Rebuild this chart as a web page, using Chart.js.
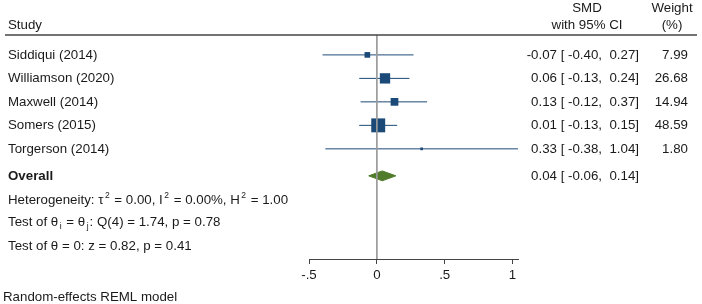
<!DOCTYPE html>
<html>
<head>
<meta charset="utf-8">
<script src="https://cdn.jsdelivr.net/npm/chart.js@4/dist/chart.umd.min.js"></script>
<style>
  html, body { margin: 0; padding: 0; background: #fff; }
  canvas { display: block; }
</style>
</head>
<body>
<canvas id="forestCanvas" width="702" height="304"></canvas>
<script>
// ===== data =====
const studies = ["Siddiqui (2014)", "Williamson (2020)", "Maxwell (2014)", "Somers (2015)", "Torgerson (2014)"];
const smd = [-0.07, 0.06, 0.13, 0.01, 0.33];
const lower = [-0.40, -0.13, -0.12, -0.13, -0.38];
const upper = [0.27, 0.24, 0.37, 0.15, 1.04];
const weights = [7.99, 26.68, 14.94, 48.59, 1.80];
const overall = [0.04, -0.06, 0.14]; // estimate, lower, upper
const xTicks = [-0.5, 0, 0.5, 1];
const xTickLabels = ["-.5", "0", ".5", "1"];

// row layout (y scale units, one row per line)
const rows = [1, 2, 3, 4, 5];
const overallRow = 6.15;
const statRows = [7.2, 8.15, 9.15];
const yTop = 0.153;
const yBottom = 9.69;

const BOX = "#1c4a78";
const DIAMOND = "#4f7b2b";
const TEXT = "#1a1a1a";
const FONT = "'Liberation Sans', Arial, Helvetica, sans-serif";
const FS = 13.3;

Chart.defaults.font.family = FONT;
Chart.defaults.font.size = FS;
Chart.defaults.color = TEXT;

const fmt = (v) => (v < 0 ? "-" : "") + Math.abs(v).toFixed(2);
const ciText = (e, l, u) => `${fmt(e)} [ ${fmt(l)},  ${fmt(u)}]`;

// CI lines, one dataset each
const ciSets = studies.map((s, i) => ({
  type: "line",
  data: [{ x: lower[i], y: rows[i] }, { x: upper[i], y: rows[i] }],
  borderColor: BOX,
  borderWidth: 1,
  pointRadius: 0,
  clip: false,
}));

// 畫文字 (含上下標)
function drawRich(ctx, parts, x, y) {
  let cx = x;
  parts.forEach((p) => {
    const small = p.sup || p.sub;
    ctx.font = `${small ? 8.5 : FS}px ${FONT}`;
    const dy = p.sup ? -5 : p.sub ? 4 : 0;
    if (small) cx += 1.5;
    ctx.fillText(p.t, cx, y + dy);
    cx += ctx.measureText(p.t).width + (small ? 1 : 0);
  });
}

const textPlugin = {
  id: "forestText",
  afterDraw(chart) {
    const ctx = chart.ctx;
    const ys = chart.scales.y;
    ctx.save();
    ctx.fillStyle = TEXT;
    ctx.textBaseline = "middle";
    ctx.font = `${FS}px ${FONT}`;

    // header
    ctx.textAlign = "left";
    ctx.fillText("Study", 8, 25);
    ctx.textAlign = "center";
    ctx.fillText("SMD", 587, 8);
    ctx.fillText("with 95% CI", 587, 25);
    ctx.fillText("Weight", 672, 8);
    ctx.fillText("(%)", 672, 25);

    ctx.strokeStyle = "#444";
    ctx.lineWidth = 1.5;
    ctx.beginPath();
    ctx.moveTo(5, 35);
    ctx.lineTo(697, 35);
    ctx.stroke();

    // study rows
    studies.forEach((s, i) => {
      const y = ys.getPixelForValue(rows[i]);
      ctx.textAlign = "left";
      ctx.fillText(s, 8, y);
      ctx.textAlign = "right";
      ctx.fillText(ciText(smd[i], lower[i], upper[i]), 639, y);
      ctx.fillText(weights[i].toFixed(2), 688, y);
    });

    // overall
    const oy = ys.getPixelForValue(overallRow);
    ctx.textAlign = "left";
    ctx.font = `bold ${FS}px ${FONT}`;
    ctx.fillText("Overall", 8, oy);
    ctx.font = `${FS}px ${FONT}`;
    ctx.textAlign = "right";
    ctx.fillText(ciText(overall[0], overall[1], overall[2]), 639, oy);

    // statistics
    ctx.textAlign = "left";
    drawRich(ctx, [
      { t: "Heterogeneity: τ" }, { t: "2", sup: true }, { t: " = 0.00, I" }, { t: "2", sup: true },
      { t: " = 0.00%, H" }, { t: "2", sup: true }, { t: " = 1.00" },
    ], 8, ys.getPixelForValue(statRows[0]));
    drawRich(ctx, [
      { t: "Test of θ" }, { t: "i", sub: true }, { t: " = θ" }, { t: "j", sub: true },
      { t: ": Q(4) = 1.74, p = 0.78" },
    ], 8, ys.getPixelForValue(statRows[1]));
    drawRich(ctx, [{ t: "Test of θ = 0: z = 0.82, p = 0.41" }], 8, ys.getPixelForValue(statRows[2]));

    ctx.font = `${FS}px ${FONT}`;
    ctx.fillText("Random-effects REML model", 3, 297);
    ctx.restore();
  },
};

new Chart(document.getElementById("forestCanvas"), {
  type: "scatter",
  data: {
    datasets: [
      // zero line
      {
        type: "line",
        data: [{ x: 0, y: yTop }, { x: 0, y: yBottom }],
        borderColor: "#9a9a9a",
        borderWidth: 1,
        pointRadius: 0,
      },
      ...ciSets,
      // study boxes (area ~ weight)
      {
        data: studies.map((s, i) => ({ x: smd[i], y: rows[i] })),
        pointStyle: "rect",
        pointRadius: weights.map((w) => Math.sqrt(2 * w)),
        backgroundColor: BOX,
        borderWidth: 0,
        clip: false,
      },
      // overall diamond
      {
        type: "line",
        data: [
          { x: overall[1], y: overallRow },
          { x: overall[0], y: overallRow - 0.21 },
          { x: overall[2], y: overallRow },
          { x: overall[0], y: overallRow + 0.21 },
          { x: overall[1], y: overallRow },
        ],
        borderColor: DIAMOND,
        backgroundColor: DIAMOND,
        borderWidth: 1,
        fill: "shape",
        pointRadius: 0,
        tension: 0,
      },
    ],
  },
  options: {
    responsive: false,
    animation: false,
    layout: { padding: { left: 309, right: 184, top: 35, bottom: 25 } },
    plugins: { legend: { display: false }, tooltip: { enabled: false } },
    scales: {
      x: {
        type: "linear",
        min: -0.5,
        max: 1.04,
        afterBuildTicks: (s) => { s.ticks = xTicks.map((v) => ({ value: v })); },
        afterFit: (s) => { s.height = 20; },
        ticks: {
          callback: (v) => xTickLabels[xTicks.indexOf(v)],
          padding: 3,
          maxRotation: 0,
          color: TEXT,
          font: { size: FS },
        },
        grid: { drawOnChartArea: false, tickLength: 5, color: "#444" },
        border: { display: true, color: "#444", width: 1 },
      },
      y: {
        type: "linear",
        reverse: true,
        min: yTop,
        max: yBottom,
        display: false,
      },
    },
  },
  plugins: [textPlugin],
});
</script>
</body>
</html>
